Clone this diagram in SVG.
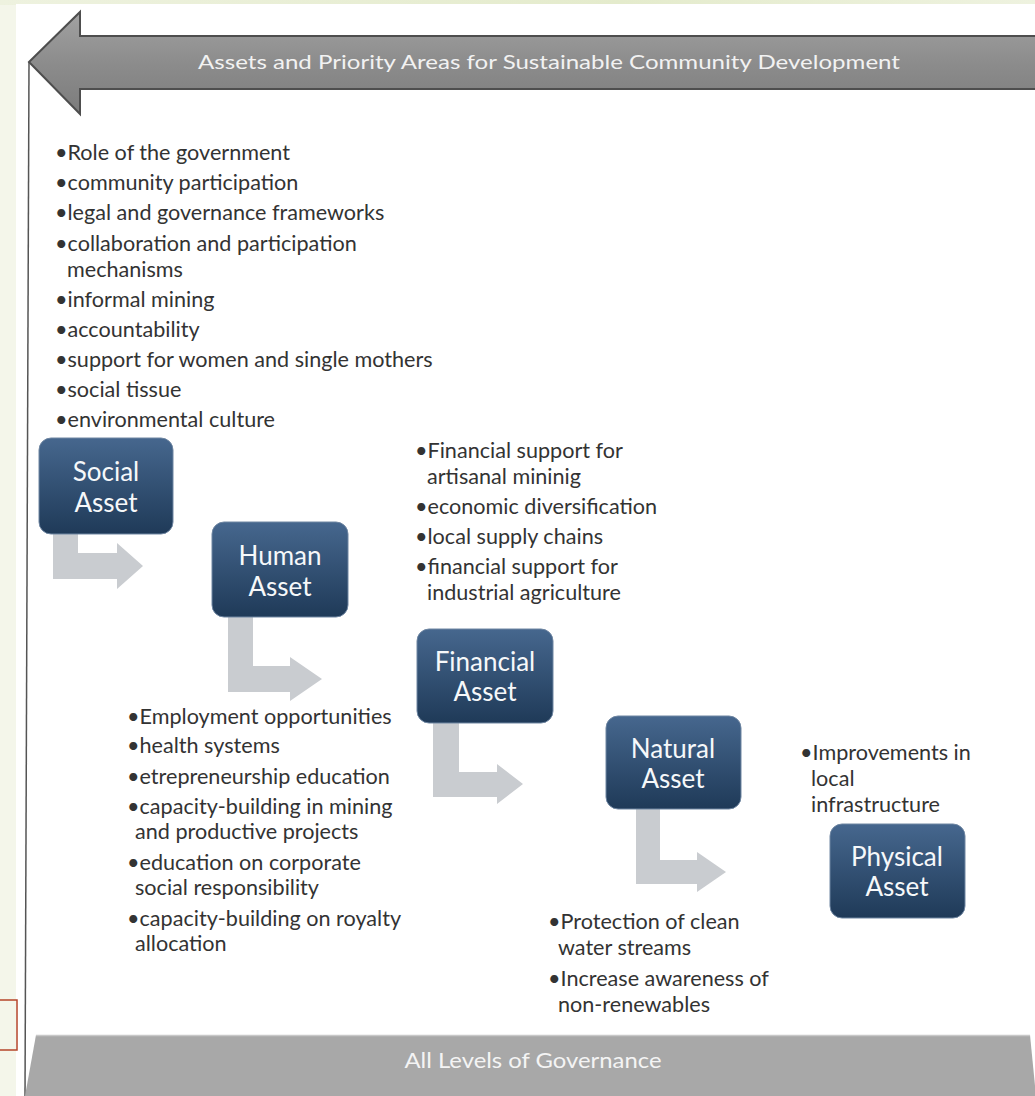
<svg xmlns="http://www.w3.org/2000/svg" width="1035" height="1096" viewBox="0 0 1035 1096">
<defs>
<linearGradient id="pageTop" x1="0" y1="0" x2="1" y2="0">
<stop offset="0" stop-color="#eef2df"/><stop offset="0.6" stop-color="#e4ebcc"/><stop offset="1" stop-color="#eef2df"/>
</linearGradient>
<linearGradient id="boxGrad" x1="0" y1="0" x2="0" y2="1">
<stop offset="0" stop-color="#46678e"/><stop offset="1" stop-color="#1f3a58"/>
</linearGradient>
<linearGradient id="hdrGrad" x1="0" y1="0" x2="0" y2="1">
<stop offset="0" stop-color="#a2a2a2"/><stop offset="0.5" stop-color="#8c8c8c"/><stop offset="1" stop-color="#7c7c7c"/>
</linearGradient>
<style>
.list{font-family:Lato,"Open Sans","Liberation Sans",sans-serif;font-size:21.6px;fill:#333333}
.node rect{fill:url(#boxGrad);stroke:#6f86a2;stroke-width:1}
.node text{font-family:Lato,"Open Sans","Liberation Sans",sans-serif;font-size:26px;fill:#f6f8fa;text-anchor:middle}
.elbow{fill:#c9ccd0}
</style>
</defs>
<rect x="0" y="0" width="1035" height="1096" fill="#f4f6ea"/>
<rect x="0" y="0" width="1035" height="5" fill="url(#pageTop)"/>
<rect x="16" y="4" width="1019" height="1092" fill="#ffffff"/>
<rect x="-1" y="1000" width="18" height="50" fill="none" stroke="#b5452a" stroke-width="1.5"/>
<line x1="29" y1="62" x2="25" y2="1096" stroke="#555" stroke-width="1.5"/>

<g id="header">
<polygon points="29,62 80,12 80,36 1040,36 1040,89 80,89 80,114" fill="url(#hdrGrad)" stroke="#4e4e4e" stroke-width="2"/>
<text x="549" y="69" font-family="Lato,'Open Sans','Liberation Sans',sans-serif" font-size="20" fill="#f2f2f2" text-anchor="middle" textLength="702" lengthAdjust="spacingAndGlyphs">Assets and Priority Areas for Sustainable Community Development</text>
</g>

<g id="footer">
<polygon points="36,1035 1030,1035 1036,1096 25,1096" fill="#a8a8a8"/>
<line x1="36" y1="1035.5" x2="1030" y2="1035.5" stroke="#c8c8c8" stroke-width="1.5"/>
<text x="533" y="1068" font-family="Lato,'Open Sans','Liberation Sans',sans-serif" font-size="22" fill="#f4f4f4" text-anchor="middle" textLength="257" lengthAdjust="spacingAndGlyphs">All Levels of Governance</text>
</g>

<g id="social-list" class="list">
<text x="55" y="160">•Role of the government</text>
<text x="55" y="190">•community participation</text>
<text x="55" y="220">•legal and governance frameworks</text>
<text x="55" y="251">•collaboration and participation</text>
<text x="67" y="277">mechanisms</text>
<text x="55" y="307">•informal mining</text>
<text x="55" y="337">•accountability</text>
<text x="55" y="367">•support for women and single mothers</text>
<text x="55" y="397">•social tissue</text>
<text x="55" y="427">•environmental culture</text>
</g>

<g id="financial-list" class="list">
<text x="415" y="458">•Financial support for</text>
<text x="427" y="484">artisanal mininig</text>
<text x="415" y="514">•economic diversification</text>
<text x="415" y="544">•local supply chains</text>
<text x="415" y="574">•financial support for</text>
<text x="427" y="600">industrial agriculture</text>
</g>

<g id="human-list" class="list">
<text x="127" y="724">•Employment opportunities</text>
<text x="127" y="753">•health systems</text>
<text x="127" y="784">•etrepreneurship education</text>
<text x="127" y="814">•capacity-building in mining</text>
<text x="135" y="839">and productive projects</text>
<text x="127" y="870">•education on corporate</text>
<text x="135" y="895">social responsibility</text>
<text x="127" y="926">•capacity-building on royalty</text>
<text x="135" y="951">allocation</text>
</g>

<g id="natural-list" class="list">
<text x="548" y="929">•Protection of clean</text>
<text x="558" y="955">water streams</text>
<text x="548" y="986">•Increase awareness of</text>
<text x="558" y="1012">non-renewables</text>
</g>

<g id="physical-list" class="list">
<text x="800" y="760">•Improvements in</text>
<text x="811" y="786">local</text>
<text x="811" y="812">infrastructure</text>
</g>

<g id="connectors">
<polygon class="elbow" points="53,534 78,534 78,553 117,553 117,543 143,566 117,589 117,579 53,579"/>
<polygon class="elbow" points="228,617 253,617 253,666 290,666 290,657 322,679 290,701 290,692 228,692"/>
<polygon class="elbow" points="433,723 459,723 459,772 497,772 497,764 523,784 497,804 497,797 433,797"/>
<polygon class="elbow" points="636,809 660,809 660,860 697,860 697,852 726,872 697,892 697,884 636,884"/>
</g>

<g id="node-social" class="node">
<rect x="39" y="438" width="134" height="96" rx="12"/>
<text x="106" y="481">Social</text>
<text x="106" y="512">Asset</text>
</g>
<g id="node-human" class="node">
<rect x="212" y="522" width="136" height="95" rx="12"/>
<text x="280" y="565">Human</text>
<text x="280" y="596">Asset</text>
</g>
<g id="node-financial" class="node">
<rect x="417" y="629" width="136" height="94" rx="12"/>
<text x="485" y="671">Financial</text>
<text x="485" y="701">Asset</text>
</g>
<g id="node-natural" class="node">
<rect x="606" y="716" width="135" height="93" rx="12"/>
<text x="673" y="758">Natural</text>
<text x="673" y="788">Asset</text>
</g>
<g id="node-physical" class="node">
<rect x="830" y="824" width="135" height="94" rx="12"/>
<text x="897" y="866">Physical</text>
<text x="897" y="896">Asset</text>
</g>
</svg>
